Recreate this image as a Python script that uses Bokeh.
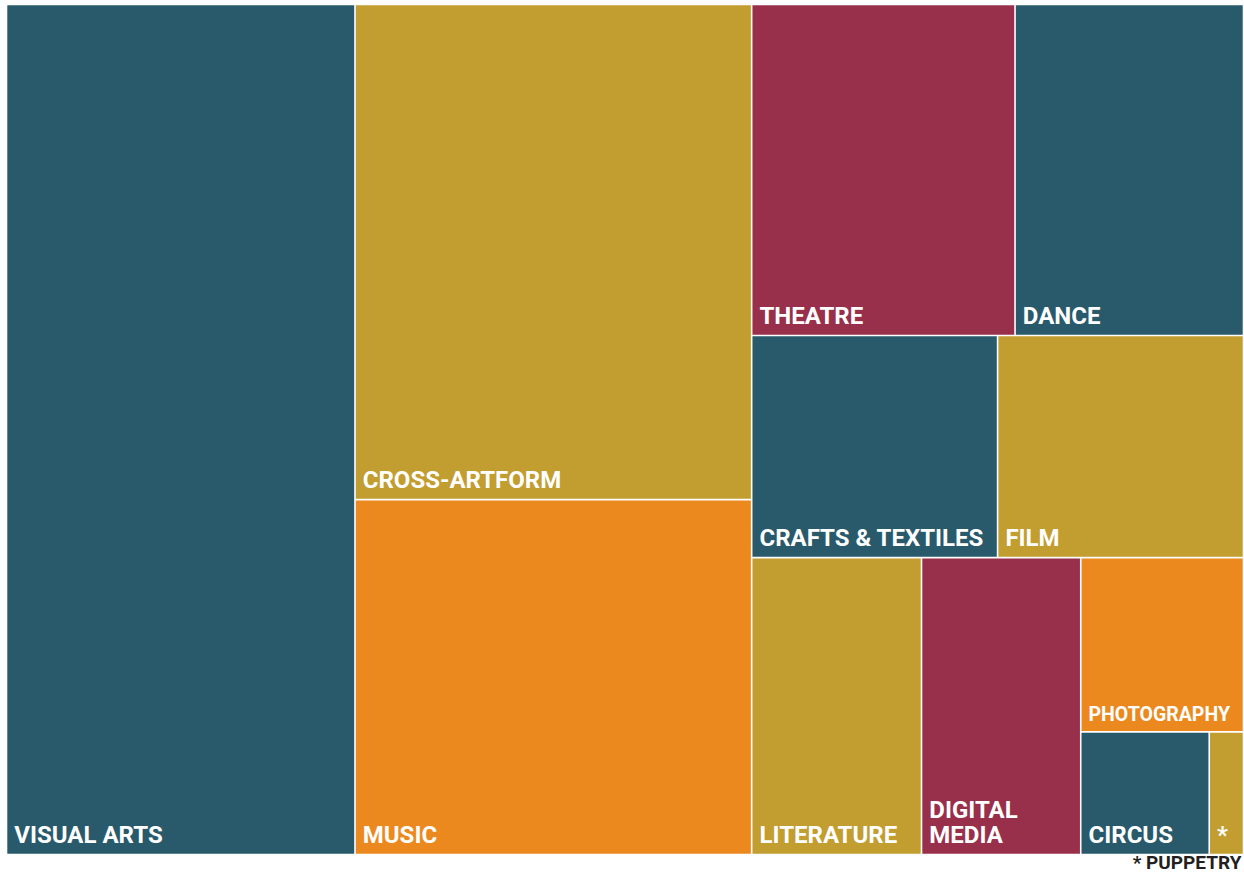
from bokeh.plotting import figure
from bokeh.models import ColumnDataSource, Range1d
from bokeh.core.properties import value
from bokeh.embed import file_html
from bokeh.resources import INLINE

# ---------------- data ----------------
categories = ["Visual Arts", "Cross-artform", "Music", "Theatre", "Dance",
              "Crafts & Textiles", "Film", "Literature", "Digital Media",
              "Photography", "Circus", "Puppetry"]
shares = [28.2, 18.7, 13.4, 8.3, 7.2, 5.2, 5.2, 4.8, 4.5, 2.7, 1.5, 0.4]
labels = ["VISUAL ARTS", "CROSS-ARTFORM", "MUSIC", "THEATRE", "DANCE",
          "CRAFTS & TEXTILES", "FILM", "LITERATURE", "DIGITAL\nMEDIA",
          "PHOTOGRAPHY", "CIRCUS", "*"]
row_sizes = [1, 2, 2, 2, 1, 1, 1, 1, 1]   # how many items share each strip
footnote = "* PUPPETRY"

# ---------------- style ----------------
TEAL, GOLD, ORANGE, MAROON = "#285a6c", "#c29d2f", "#ec891e", "#982f4b"
colors = [TEAL, GOLD, ORANGE, MAROON, TEAL, TEAL, GOLD, GOLD, MAROON,
          ORANGE, TEAL, GOLD]
small_labels = {"PHOTOGRAPHY"}
W, H = 1244, 874
BOX = (6, 4, 1243, 854)  # x0, y0, x1, y1 (y downward)
GAP = 0.8
FONT = "Roboto"


def strip_layout(vals, groups, x0, y0, x1, y1):
    rects = []
    total = float(sum(vals))
    i = 0
    for g in groups:
        grp = vals[i:i + g]
        s = float(sum(grp))
        dx, dy = x1 - x0, y1 - y0
        frac = s / total
        if dx >= dy:  # column on the left, items stacked vertically
            cx1 = x0 + dx * frac
            yy = y0
            for v in grp:
                h = dy * v / s
                rects.append((x0, yy, cx1, yy + h))
                yy += h
            x0 = cx1
        else:  # row on top, items side by side
            ry1 = y0 + dy * frac
            xx = x0
            for v in grp:
                w = dx * v / s
                rects.append((xx, y0, xx + w, ry1))
                xx += w
            y0 = ry1
        total -= s
        i += g
    return rects


rects = strip_layout(shares, row_sizes, *BOX)

src = ColumnDataSource(dict(
    left=[r[0] + GAP for r in rects],
    right=[r[2] - GAP for r in rects],
    top=[r[1] + GAP for r in rects],
    bottom=[r[3] - GAP for r in rects],
    color=colors,
    category=categories,
    share=shares,
))

p = figure(width=W, height=H, x_range=Range1d(0, W), y_range=Range1d(H, 0),
           output_backend="svg", toolbar_location=None, min_border=0)
p.axis.visible = False
p.grid.visible = False
p.outline_line_color = None
p.background_fill_color = "white"
p.border_fill_color = "white"

p.quad(left="left", right="right", top="top", bottom="bottom", source=src,
       fill_color="color", line_color=None)

big = dict(x=[], y=[], t=[])
small = dict(x=[], y=[], t=[])
for r, lab in zip(rects, labels):
    d = small if lab in small_labels else big
    d["x"].append(r[0] + GAP + 7)
    d["y"].append(r[3] - GAP - 5)
    d["t"].append(lab)

p.text(x="x", y="y", text="t", source=ColumnDataSource(big),
       text_font=value(FONT), text_font_style="bold",
       text_font_size="24px", text_color="white",
       text_baseline="bottom", text_align="left", text_line_height=0.88)
p.text(x="x", y="y", text="t", source=ColumnDataSource(small),
       text_font=value(FONT), text_font_style="bold",
       text_font_size="19.5px", text_color="white",
       text_baseline="bottom", text_align="left")

p.text(x=[BOX[2] - 2], y=[H - 1], text=[footnote],
       text_font=value(FONT), text_font_style="bold",
       text_font_size="19px", text_color="#231f20",
       text_baseline="bottom", text_align="right")

open("out.html", "w").write(file_html(p, INLINE))
